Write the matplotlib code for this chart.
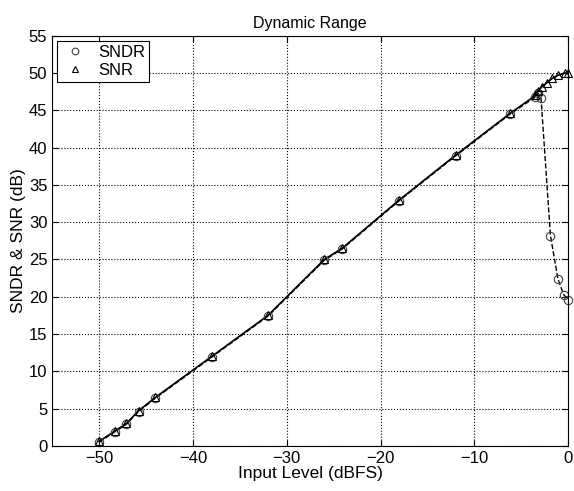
import matplotlib
matplotlib.use("Agg")
import matplotlib.pyplot as plt

plt.rcParams['font.family'] = ['Liberation Sans', 'DejaVu Sans']

# SNR curve (triangles)
snr_x = [-50, -48.3, -47.1, -45.8, -44, -38, -32, -26, -24.1, -18, -12, -6.2,
         -3.5, -3.2, -2.8, -2.3, -1.7, -1.1, -0.4, 0]
snr_y = [0.6, 2.0, 3.0, 4.7, 6.5, 12.0, 17.5, 25.0, 26.5, 33.0, 39.0, 44.6,
         47.0, 47.6, 48.2, 48.7, 49.3, 49.7, 50.0, 50.0]

# SNDR curve (circles)
sndr_x = [-50, -48.3, -47.1, -45.8, -44, -38, -32, -26, -24.1, -18, -12, -6.2,
          -3.5, -3.2, -2.9, -1.9, -1.1, -0.5, 0]
sndr_y = [0.5, 1.9, 2.9, 4.6, 6.4, 11.9, 17.4, 24.9, 26.4, 32.9, 38.9, 44.5,
          46.8, 47.3, 46.6, 28.2, 22.4, 20.3, 19.6]

fig = plt.figure(figsize=(5.74, 4.91), dpi=100)
ax = fig.add_axes([0.091, 0.092, 0.899, 0.835])

ax.plot(sndr_x, sndr_y, 'k--', lw=1.0, clip_on=False)
ax.plot(snr_x, snr_y, 'k-', lw=1.2, clip_on=False)
ax.plot(sndr_x, sndr_y, 'o', ls='none', mfc='none', mec='0.25', ms=6, mew=0.8,
        label='SNDR', clip_on=False)
ax.plot(snr_x, snr_y, '^', ls='none', mfc='none', mec='k', ms=6, mew=0.8,
        label='SNR', clip_on=False)

ax.set_xlim(-55, 0)
ax.set_ylim(0, 55)
ax.set_xticks(range(-50, 1, 10))
ax.set_yticks(range(0, 56, 5))
ax.set_xticklabels(['\u221250', '\u221240', '\u221230', '\u221220', '\u221210', '0'])
ax.grid(True, color='k', ls=':', lw=0.8)
ax.tick_params(direction='in', labelsize=12, length=4, top=True, right=True)

ax.set_title('Dynamic Range', fontsize=11.5)
ax.set_xlabel('Input Level (dBFS)', fontsize=12.5, labelpad=0)
ax.set_ylabel('SNDR & SNR (dB)', fontsize=12.5, labelpad=2)

leg = ax.legend(loc='upper left', fontsize=12, frameon=True, fancybox=False,
                edgecolor='k', framealpha=1, handletextpad=0.6, borderaxespad=0.3,
                borderpad=0.25, labelspacing=0.15, handlelength=1.6, markerscale=0.8)
leg.get_frame().set_linewidth(0.8)

fig.savefig("out.png", dpi=100)
